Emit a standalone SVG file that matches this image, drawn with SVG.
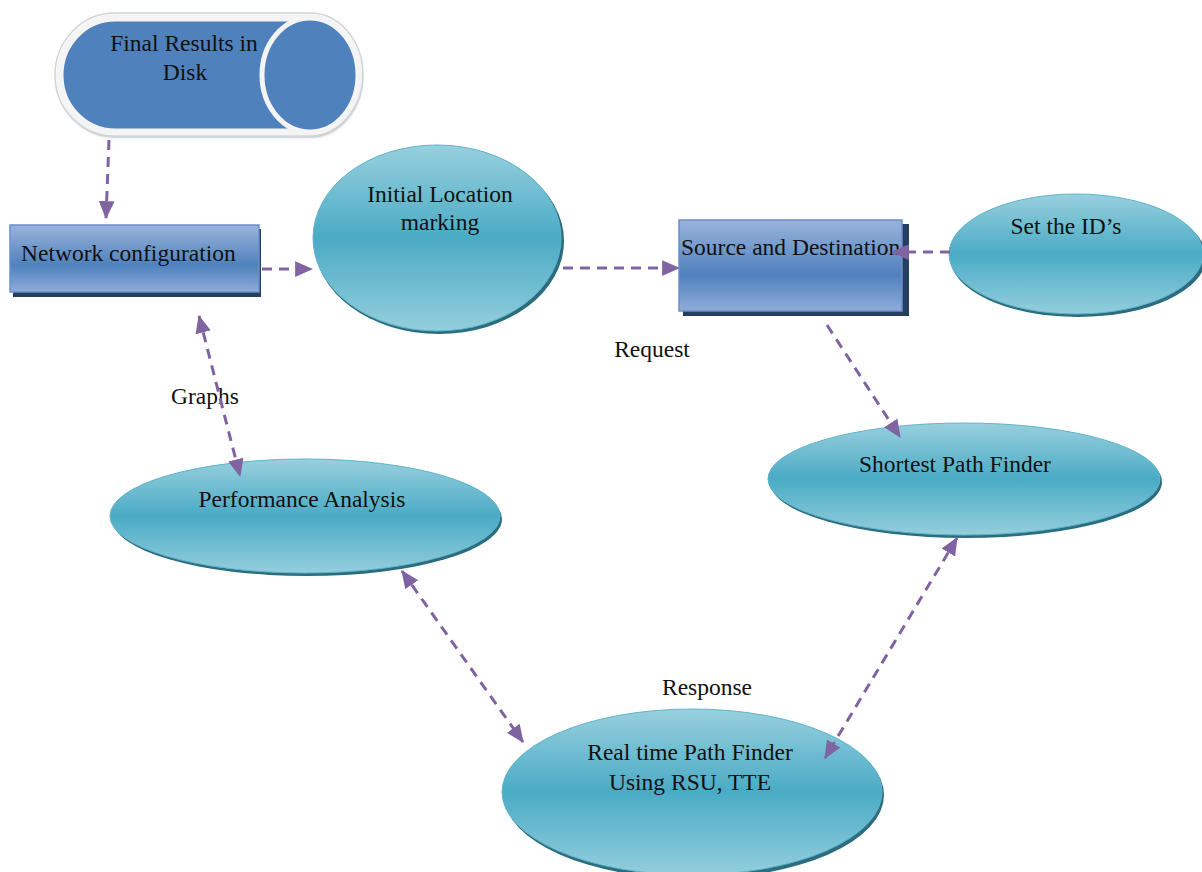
<svg xmlns="http://www.w3.org/2000/svg" width="1202" height="872" viewBox="0 0 1202 872">
<style>
  .t { font-family: "Liberation Serif", "Times New Roman", serif; font-size: 23.5px; fill: #111; }
  .c { text-anchor: middle; }
  .edge { fill: none; stroke: #8064a2; stroke-width: 3; stroke-dasharray: 10 7; }
  .ell { fill: url(#gTeal); stroke: #5fb4cb; stroke-width: 1; }
  .ellsh { fill: #2b6d7e; }
  .box { fill: url(#gBlue); stroke: #6a8fcc; stroke-width: 1.5; }
  .boxsh { fill: #243f60; }
</style>
<defs>
  <linearGradient id="gTeal" x1="0" y1="0" x2="0" y2="1">
    <stop offset="0" stop-color="#98d0de"/>
    <stop offset="0.5" stop-color="#4aabc5"/>
    <stop offset="1" stop-color="#94cedd"/>
  </linearGradient>
  <linearGradient id="gBlue" x1="0" y1="0" x2="0" y2="1">
    <stop offset="0" stop-color="#9ab4dc"/>
    <stop offset="0.6" stop-color="#4f81bd"/>
    <stop offset="1" stop-color="#90acda"/>
  </linearGradient>
  <filter id="blur" x="-10%" y="-10%" width="120%" height="130%">
    <feGaussianBlur stdDeviation="2"/>
  </filter>
  <marker id="ah" markerUnits="userSpaceOnUse" markerWidth="18" markerHeight="18" viewBox="0 0 16 16" refX="15" refY="8" orient="auto-start-reverse">
    <path d="M0,1 L16,8 L0,15 Z" fill="#8064a2"/>
  </marker>
</defs>

<g id="node-disk">
  <path d="M115,22 L312,22 A48,57 0 0 1 312,136 L115,136 A55,57 0 0 1 115,22 Z" fill="#9aa4b0" filter="url(#blur)"/>
  <path d="M115,18 L310,18 A48,57 0 0 1 310,132 L115,132 A55,57 0 0 1 115,18 Z" fill="#4f81bd" stroke="#f4f4f4" stroke-width="7"/>
  <path d="M115,13 L310,13 A53,62 0 0 1 310,137 L115,137 A60,62 0 0 1 115,13 Z" fill="none" stroke="#d0d4d8" stroke-width="1.5"/>
  <ellipse cx="310" cy="75" rx="48" ry="57" fill="#4f81bd" stroke="#f4f4f4" stroke-width="5"/>
  <text class="t c" x="184" y="51">Final Results in</text>
  <text class="t c" x="185" y="80">Disk</text>
</g>

<g id="node-network">
  <rect class="boxsh" x="13" y="229" width="248" height="68"/>
  <rect class="box" x="10" y="225" width="249" height="67"/>
  <text class="t" x="21" y="261">Network configuration</text>
</g>

<g id="node-initial">
  <ellipse class="ellsh" cx="439" cy="241" rx="125" ry="93"/>
  <ellipse class="ell" cx="437" cy="238" rx="124" ry="93"/>
  <text class="t c" x="440" y="202">Initial Location</text>
  <text class="t c" x="440" y="230">marking</text>
</g>

<g id="node-source">
  <rect class="boxsh" x="683" y="224" width="226" height="92"/>
  <rect class="box" x="679" y="220" width="223" height="91"/>
  <text class="t" x="681" y="255">Source and Destination</text>
</g>

<g id="node-setid">
  <ellipse class="ellsh" cx="1078" cy="257" rx="128" ry="60"/>
  <ellipse class="ell" cx="1076" cy="254" rx="127" ry="60"/>
  <text class="t c" x="1066" y="234">Set the ID’s</text>
</g>

<g id="node-shortest">
  <ellipse class="ellsh" cx="966" cy="482" rx="196" ry="56"/>
  <ellipse class="ell" cx="964" cy="479" rx="196" ry="56"/>
  <text class="t c" x="955" y="472">Shortest Path Finder</text>
</g>

<g id="node-performance">
  <ellipse class="ellsh" cx="307" cy="519" rx="195" ry="57"/>
  <ellipse class="ell" cx="305" cy="516" rx="195" ry="57"/>
  <text class="t c" x="302" y="507">Performance Analysis</text>
</g>

<g id="node-realtime">
  <ellipse class="ellsh" cx="694" cy="795" rx="190" ry="84"/>
  <ellipse class="ell" cx="692" cy="792" rx="190" ry="83"/>
  <text class="t c" x="690" y="760">Real time Path Finder</text>
  <text class="t c" x="690" y="790">Using RSU, TTE</text>
</g>

<g id="labels">
  <text class="t c" x="652" y="357">Request</text>
  <text class="t c" x="205" y="404">Graphs</text>
  <text class="t c" x="707" y="695">Response</text>
</g>

<g id="connectors">
  <line class="edge" x1="109" y1="140" x2="106" y2="218" marker-end="url(#ah)"/>
  <line class="edge" x1="262" y1="269" x2="312" y2="269" marker-end="url(#ah)"/>
  <line class="edge" x1="563" y1="268" x2="679" y2="268" marker-end="url(#ah)"/>
  <line class="edge" x1="950" y1="252" x2="892" y2="252" marker-end="url(#ah)"/>
  <line class="edge" x1="827" y1="325" x2="900" y2="437" marker-end="url(#ah)"/>
  <line class="edge" x1="199" y1="316" x2="240" y2="476" marker-start="url(#ah)" marker-end="url(#ah)"/>
  <line class="edge" x1="402" y1="571" x2="523" y2="742" marker-start="url(#ah)" marker-end="url(#ah)"/>
  <line class="edge" x1="957" y1="538" x2="825" y2="758" marker-start="url(#ah)" marker-end="url(#ah)"/>
</g>
</svg>
